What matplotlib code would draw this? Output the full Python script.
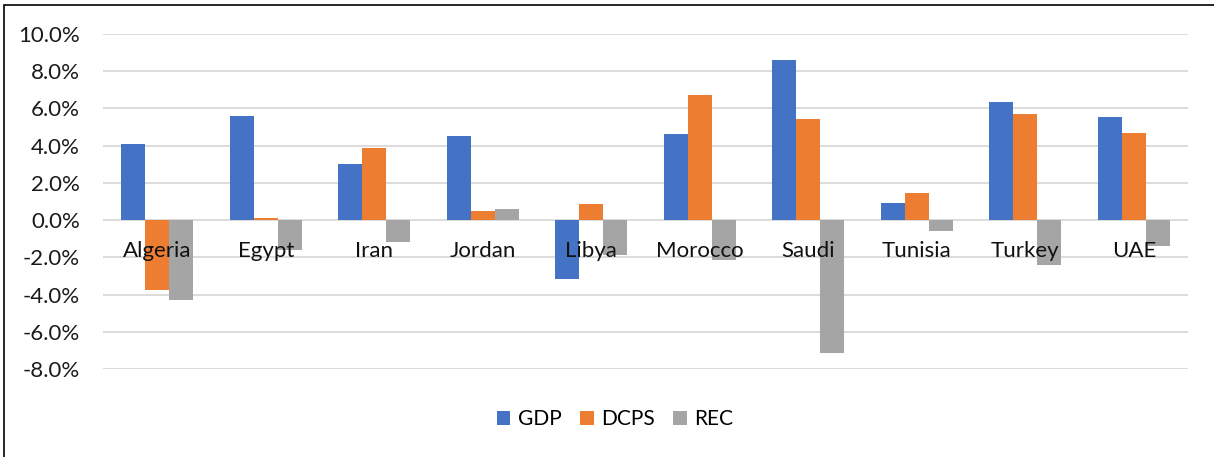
import numpy as np
import matplotlib
matplotlib.use("Agg")
import matplotlib.pyplot as plt
from matplotlib.patches import Rectangle
from matplotlib.ticker import FuncFormatter

countries = ["Algeria", "Egypt", "Iran", "Jordan", "Libya",
             "Morocco", "Saudi", "Tunisia", "Turkey", "UAE"]
gdp = [4.11, 5.58, 3.03, 4.54, -3.19, 4.61, 8.61, 0.94, 6.33, 5.56]
dcps = [-3.74, 0.11, 3.87, 0.49, 0.86, 6.71, 5.45, 1.45, 5.69, 4.66]
rec = [-4.30, -1.58, -1.20, 0.61, -1.86, -2.15, -7.12, -0.57, -2.40, -1.38]

series = [("GDP", gdp, "#4472C4"), ("DCPS", dcps, "#ED7D31"), ("REC", rec, "#A5A5A5")]

plt.rcParams['font.family'] = ['Lato', 'DejaVu Sans']

fig = plt.figure(figsize=(12.14, 4.57), dpi=100)
ax = fig.add_axes([103 / 1214, 1 - 369 / 457, (1188 - 103) / 1214, (369 - 34) / 457])

x = np.arange(len(countries))
w = 0.22
for k, (name, vals, col) in enumerate(series):
    ax.bar(x + (k - 1) * w, vals, width=w, color=col, label=name, zorder=2)

ax.set_xlim(-0.5, len(countries) - 0.5)
ax.set_ylim(-8, 10)
ax.set_yticks(np.arange(-8, 11, 2))
ax.yaxis.set_major_formatter(FuncFormatter(lambda v, p: "%.1f%%" % v))
ax.tick_params(axis='y', length=0, pad=16.5, labelsize=16, labelcolor="#1a1a1a")
ax.set_xticks([])
ax.grid(axis='y', color="#D9D9D9", linewidth=1.3, zorder=0)
for s in ax.spines.values():
    s.set_visible(False)

for i, c in enumerate(countries):
    ax.annotate(c, xy=(i, 0), xytext=(0, -15), textcoords='offset points',
                ha='center', va='top', fontsize=16, color="#111111", zorder=5)

fig.legend(loc='center', bbox_to_anchor=(615 / 1214, 1 - 419 / 457), ncol=3,
           frameon=False, fontsize=15, handlelength=0.65, handleheight=0.65,
           handletextpad=0.35, columnspacing=0.9)

fig.patches.append(Rectangle((4 / 1214, -0.1), 2, 1.1 - 5 / 457, transform=fig.transFigure,
                             fill=False, edgecolor="black", linewidth=1.2))

fig.savefig("out.png", dpi=100)
